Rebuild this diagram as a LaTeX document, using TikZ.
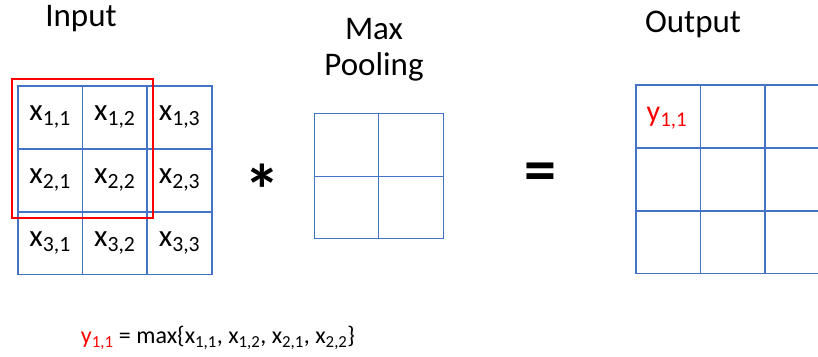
\documentclass[tikz,border=0pt]{standalone}
\usepackage{fontspec}
\setmainfont{Carlito}
\usetikzlibrary{positioning}
\definecolor{gridblue}{RGB}{68,114,196}
\definecolor{hired}{RGB}{255,0,0}
\newcommand\sbx[1]{\textsubscript{#1}}
\tikzset{
  cellbox/.style={draw=gridblue, line width=1.5pt, minimum width=64.7pt, minimum height=62.7pt, inner sep=0pt, anchor=north west, font=\fontsize{31}{36}\selectfont},
  poolbox/.style={draw=gridblue, line width=1.4pt, minimum width=64.5pt, minimum height=62.5pt, inner sep=0pt, anchor=north west},
  titletext/.style={font=\fontsize{33}{38}\selectfont, inner sep=0pt},
  optext/.style={font=\fontsize{64}{64}\selectfont\bfseries, inner sep=0pt},
}
\begin{document}
\begin{tikzpicture}[x=1pt,y=-1pt]
\clip (0,0) rectangle (818,356);
\fill[white] (0,0) rectangle (818,356);
% titles
\node[titletext] (tin) at (81,19) {Input};
\node[titletext] (tmax) at (374,29) {Max};
\node[titletext] (tpool) at (374,67) {Pooling};
\node[titletext] (tout) at (693,24) {Output};
% input grid
\foreach \r/\yy in {1/85,2/148,3/211}{
  \foreach \c/\xx in {1/17,2/81.7,3/146.4}{
    \node[cellbox] (in\r\c) at (\xx,\yy) {x\sbx{\r,\c}};
  }
}
% red window
\node[draw=hired, line width=1.8pt, minimum width=141pt, minimum height=139pt, inner sep=0pt, anchor=north west] (win) at (11,78) {};
% operator
\node[optext, font=\fontsize{72}{72}\selectfont\bfseries] (star) at (262,190) {*};
% pooling grid
\foreach \r/\yy in {1/113,2/175.5}{
  \foreach \c/\xx in {1/313.5,2/378}{
    \node[poolbox] (p\r\c) at (\xx,\yy) {};
  }
}
\node[optext] (eq) at (540,177) {=};
% output grid
\foreach \r/\yy in {1/84,2/147,3/210}{
  \foreach \c/\xx in {1/635,2/699.5,3/764}{
    \node[cellbox, minimum width=64.5pt] (o\r\c) at (\xx,\yy) {};
  }
}
\node[text=hired, font=\fontsize{30}{34}\selectfont, inner sep=0pt, anchor=center] (y11) at (667,118) {y\sbx{1,1}};
% formula
\node[font=\fontsize{24}{28}\selectfont, inner sep=0pt] (form) at (218,338) {\textcolor{hired}{y\sbx{1,1}} = max\{x\sbx{1,1}, x\sbx{1,2}, x\sbx{2,1}, x\sbx{2,2}\}};
\end{tikzpicture}
\end{document}
